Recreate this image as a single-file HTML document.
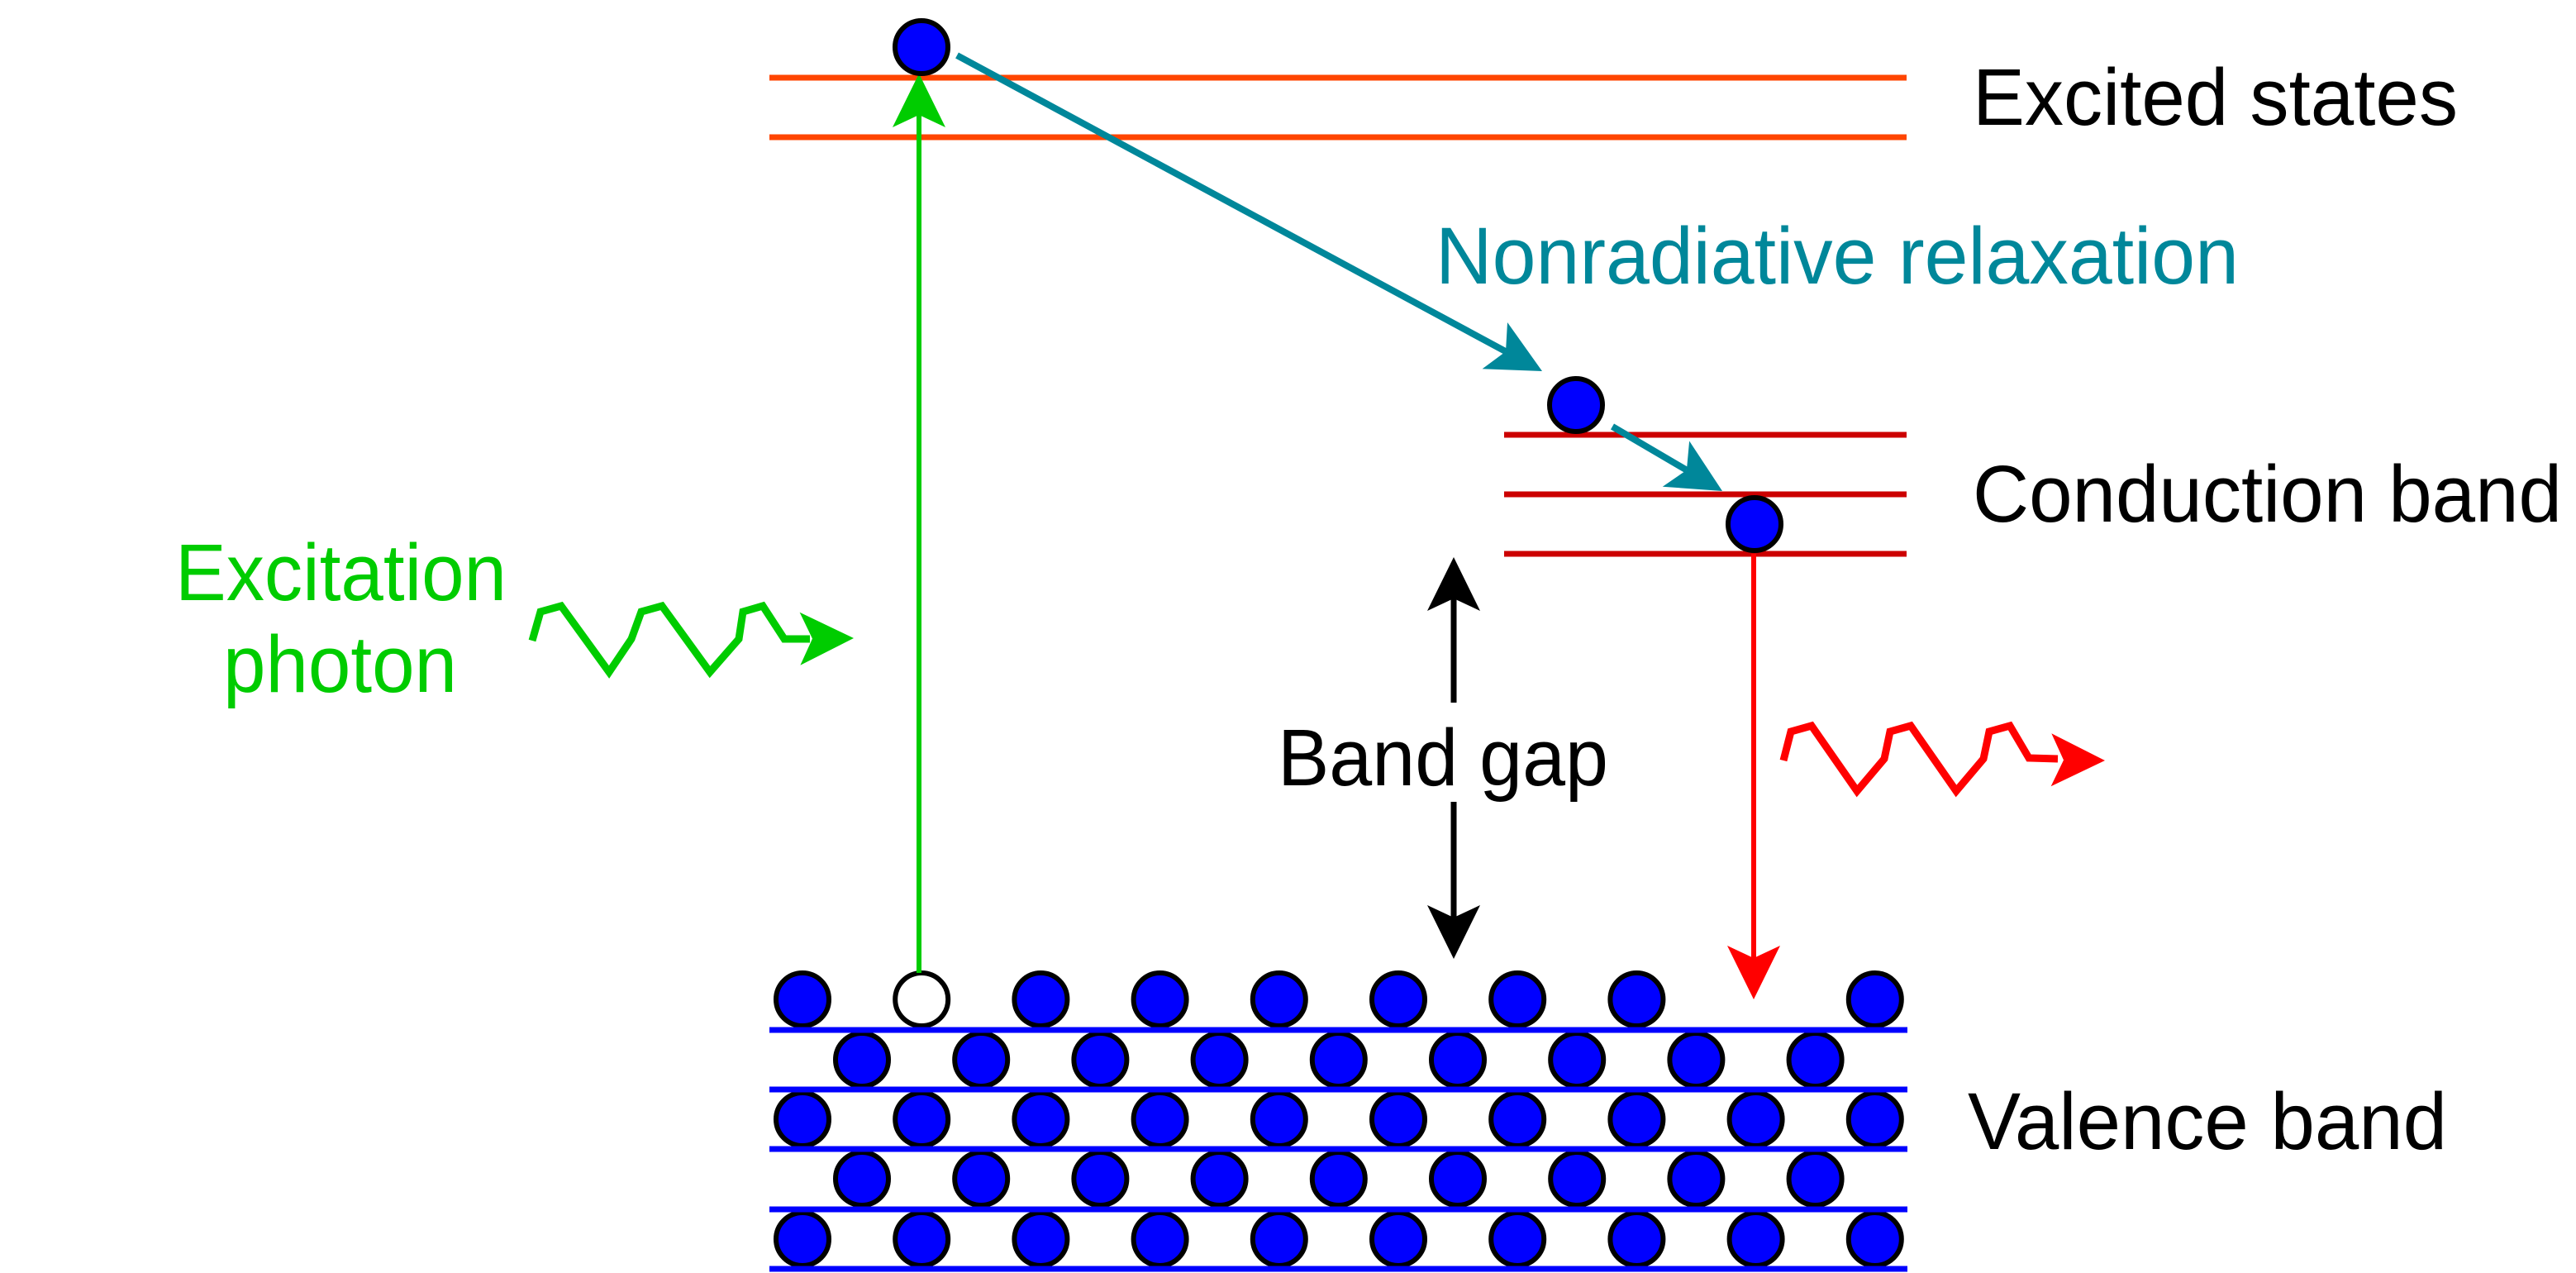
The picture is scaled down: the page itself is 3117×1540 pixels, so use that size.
<!DOCTYPE html>
<html><head><meta charset="utf-8"><style>
html,body{margin:0;padding:0;background:#fff;}
svg{display:block;}
text{font-family:"Liberation Sans",Arial,sans-serif;font-size:97px;}
</style></head>
<body>
<svg id="fig" width="3117" height="1540" viewBox="0 0 3117 1540" xmlns="http://www.w3.org/2000/svg">
<g id="lines"></g>
<g id="marks"></g>
<text x="2387" y="151" textLength="587" lengthAdjust="spacingAndGlyphs" fill="#000">Excited states</text>
<text x="2387" y="631" textLength="713" lengthAdjust="spacingAndGlyphs" fill="#000">Conduction band</text>
<text x="2381" y="1390" textLength="580" lengthAdjust="spacingAndGlyphs" fill="#000">Valence band</text>
<text x="1737" y="343" textLength="972" lengthAdjust="spacingAndGlyphs" fill="#00879a">Nonradiative relaxation</text>
<text x="212" y="726" textLength="401" lengthAdjust="spacingAndGlyphs" fill="#00cc00">Excitation</text>
<text x="270" y="837" textLength="283" lengthAdjust="spacingAndGlyphs" fill="#00cc00">photon</text>
<text x="1546" y="950" textLength="400" lengthAdjust="spacingAndGlyphs" fill="#000">Band gap</text>
</svg>
<script>
const excitedLevels = [94, 166];
const conductionLevels = [526, 598, 670];
const valenceLines = [1246, 1318, 1390, 1463, 1535];
const valenceRowY = [1209, 1282, 1354, 1426, 1499];
const valenceRowStartX = [971, 1043, 971, 1043, 971];
const valenceRowCounts = [10, 9, 10, 9, 10];
const holeSlot = [0, 1];
const missingSlot = [0, 8];
const electronPositions = [[1115, 57], [1907, 490], [2123, 634]];
const greenWave = [[644,775],[654,740],[679,733],[737,813],[764,773],[776,740],[801,733],[859,813],[894,773],[899,740],[923,733],[949,773],[980,773]];
const redWave = [[2158,920],[2167,885],[2192,878],[2247,957],[2280,918],[2287,885],[2312,878],[2367,957],[2400,918],[2407,885],[2432,878],[2455,917],[2490,918]];

const NS = 'http://www.w3.org/2000/svg';
const lines = document.getElementById('lines');
const marks = document.getElementById('marks');
function mk(tag, attrs, parent) {
  const el = document.createElementNS(NS, tag);
  for (const k in attrs) el.setAttribute(k, attrs[k]);
  parent.appendChild(el);
  return el;
}
function arrowHead(tx, ty, fx, fy, color, parent, name) {
  const dx = tx - fx, dy = ty - fy, len = Math.hypot(dx, dy);
  const ux = dx / len, uy = dy / len, px = -uy, py = ux;
  const L = 65, W = 32, N = 50;
  const pts = [[tx, ty],
    [tx - ux*L + px*W, ty - uy*L + py*W],
    [tx - ux*N, ty - uy*N],
    [tx - ux*L - px*W, ty - uy*L - py*W]];
  const p = mk('polygon', {points: pts.map(q => q.join(',')).join(' '), fill: color}, parent);
  
  
}
function arrow(x1, y1, x2, y2, color, w, parent, name) {
  const dx = x2 - x1, dy = y2 - y1, len = Math.hypot(dx, dy);
  const ex = x2 - dx/len*50, ey = y2 - dy/len*50;
  const l = mk('line', {x1: x1, y1: y1, x2: ex, y2: ey, stroke: color, 'stroke-width': w}, parent);
  
  
  arrowHead(x2, y2, x1, y1, color, parent, name + '-head');
}
function electron(cx, cy, fill, name) {
  const c = mk('circle', {cx: cx, cy: cy, r: 32, fill: fill, stroke: '#000', 'stroke-width': 6}, marks);
  
  
}

excitedLevels.forEach(y => {
  const l = mk('line', {x1: 931, x2: 2307, y1: y, y2: y, stroke: '#ff4500', 'stroke-width': 7}, lines);
  
  
});
conductionLevels.forEach(y => {
  const l = mk('line', {x1: 1820, x2: 2307, y1: y, y2: y, stroke: '#cc0000', 'stroke-width': 7}, lines);
  
  
});

valenceRowY.forEach((y, r) => {
  for (let i = 0; i < valenceRowCounts[r]; i++) {
    if (r === missingSlot[0] && i === missingSlot[1]) continue;
    const x = valenceRowStartX[r] + i * 144.2;
    const hole = (r === holeSlot[0] && i === holeSlot[1]);
    electron(x, y, hole ? '#fff' : '#0000ff', hole ? 'hole' : 'valence-electron');
  }
});
valenceLines.forEach(y => {
  const l = mk('line', {x1: 931, x2: 2308, y1: y, y2: y, stroke: '#0000ff', 'stroke-width': 7}, marks);
  
  
});

arrow(1112, 1177, 1112, 89, '#00cc00', 6, marks, 'excitation-arrow');
arrow(2122, 670, 2122, 1209, '#ff0000', 6, marks, 'emission-arrow');
arrow(1759, 850, 1759, 674, '#000', 7, marks, 'band-gap-arrow-up');
arrow(1759, 970, 1759, 1160, '#000', 7, marks, 'band-gap-arrow-down');
arrow(1158, 67, 1866, 449, '#00879a', 8, marks, 'relaxation-arrow-1');
arrow(1951, 516, 2084, 594, '#00879a', 8, marks, 'relaxation-arrow-2');

electronPositions.forEach((p, i) => electron(p[0], p[1], '#0000ff', 'excited-electron-' + (i + 1)));

const gw = mk('polyline', {points: greenWave.map(p => p.join(',')).join(' '), fill: 'none', stroke: '#00cc00', 'stroke-width': 9, 'stroke-linejoin': 'miter'}, marks);


arrowHead(1033, 772, 949, 773, '#00cc00', marks, 'excitation-photon-head');
const rw = mk('polyline', {points: redWave.map(p => p.join(',')).join(' '), fill: 'none', stroke: '#ff0000', 'stroke-width': 9, 'stroke-linejoin': 'miter'}, marks);


arrowHead(2547, 920, 2455, 919, '#ff0000', marks, 'emitted-photon-head');
</script>
</body></html>
